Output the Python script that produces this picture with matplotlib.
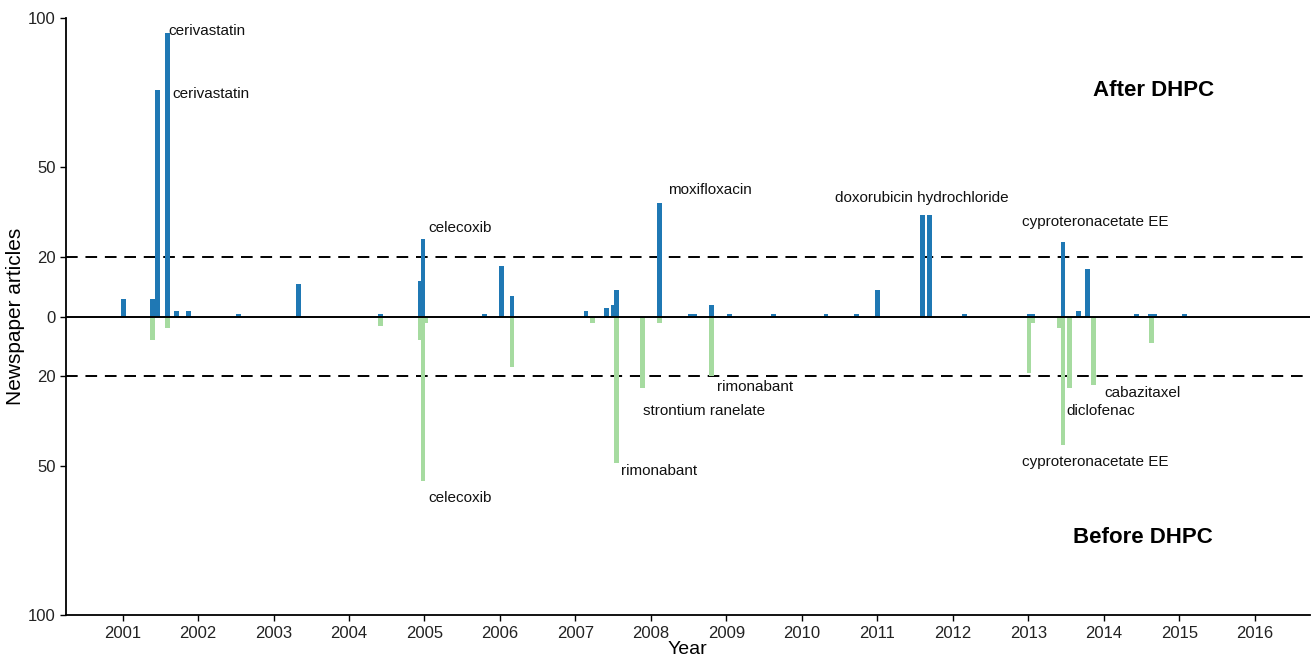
import matplotlib
matplotlib.use("Agg")
import matplotlib.pyplot as plt

plt.rcParams["font.family"] = ["Liberation Sans", "DejaVu Sans"]

# articles published after the DHPC (plotted upwards)
after_year = [2001.01, 2001.40, 2001.46, 2001.59, 2001.72, 2001.87, 2002.53, 2003.33,
              2004.42, 2004.95, 2004.98, 2005.80, 2006.02, 2006.16, 2007.14, 2007.41,
              2007.50, 2007.54, 2008.11, 2008.52, 2008.58, 2008.80, 2009.04, 2009.62,
              2010.32, 2010.73, 2011.00, 2011.60, 2011.69, 2012.16, 2013.01, 2013.06,
              2013.46, 2013.67, 2013.79, 2014.44, 2014.62, 2014.67, 2015.07]
after_count = [6, 6, 76, 95, 2, 2, 1, 11,
               1, 12, 26, 1, 17, 7, 2, 3,
               4, 9, 38, 1, 1, 4, 1, 1,
               1, 1, 9, 34, 34, 1, 1, 1,
               25, 2, 16, 1, 1, 1, 1]

# articles published before the DHPC (plotted downwards)
before_year = [2001.40, 2001.59, 2002.92, 2004.17, 2004.42, 2004.95, 2004.98, 2005.01,
               2005.73, 2006.16, 2007.23, 2007.54, 2007.89, 2008.11, 2008.21, 2008.80,
               2009.72, 2012.07, 2013.01, 2013.06, 2013.41, 2013.46, 2013.55, 2013.86,
               2014.63]
before_count = [8, 4, 0.5, 0.5, 3, 8, 55, 2,
                0.5, 17, 2, 49, 24, 2, 0.5, 20,
                0.5, 0.5, 19, 2, 4, 43, 24, 23,
                9]

# drug labels: text, x (year), y (articles, negative = before)
label_text = ["cerivastatin", "cerivastatin", "celecoxib", "moxifloxacin",
              "doxorubicin hydrochloride", "cyproteronacetate EE",
              "celecoxib", "rimonabant", "strontium ranelate", "rimonabant",
              "cyproteronacetate EE", "diclofenac", "cabazitaxel"]
label_x = [2001.61, 2001.66, 2005.05, 2008.23, 2010.44, 2012.92,
           2005.05, 2007.60, 2007.90, 2008.87, 2012.92, 2013.50, 2014.01]
label_y = [95.6, 74.5, 29.6, 42.4, 39.7, 31.7,
           -60.8, -51.8, -31.7, -23.6, -48.7, -31.7, -25.6]

years = list(range(2001, 2017))
ytick_vals = [-100, -50, -20, 0, 20, 50, 100]

fig = plt.figure(figsize=(13.12, 6.61), dpi=100)
ax = fig.add_axes([0.0503, 0.0696, 0.948, 0.903])

bar_w = 0.065
ax.bar(before_year, [-c for c in before_count], width=bar_w, color="#a6dba0", zorder=2)
ax.bar(after_year, after_count, width=bar_w, color="#1f78b4", zorder=3)

ax.axhline(0, color="black", lw=1.4, zorder=4)
for yv in (20, -20):
    ax.axhline(yv, color="black", lw=1.4, ls=(0, (6, 4)), zorder=1)

for t, x, y in zip(label_text, label_x, label_y):
    ax.text(x, y, t, ha="left", va="center", fontsize=11, color="#111111", zorder=5)

ax.text(2014.66, 75.9, "After DHPC", ha="center", va="center", fontsize=16, fontweight="bold")
ax.text(2014.52, -74.2, "Before DHPC", ha="center", va="center", fontsize=16, fontweight="bold")

ax.set_xlim(2000.25, 2016.73)
ax.set_ylim(-100, 100)
ax.set_xticks(years)
ax.set_xticklabels([str(y) for y in years])
ax.set_yticks(ytick_vals)
ax.set_yticklabels([str(abs(v)) for v in ytick_vals])
ax.tick_params(labelsize=12, length=4, width=1, labelcolor="#222222")
ax.tick_params(axis="x", pad=4)
ax.set_xlabel("Year", fontsize=14, labelpad=0)
ax.set_ylabel("Newspaper articles", fontsize=15, labelpad=2)

for s in ("top", "right"):
    ax.spines[s].set_visible(False)
for s in ("left", "bottom"):
    ax.spines[s].set_linewidth(1.3)

fig.savefig("out.png", dpi=100)
